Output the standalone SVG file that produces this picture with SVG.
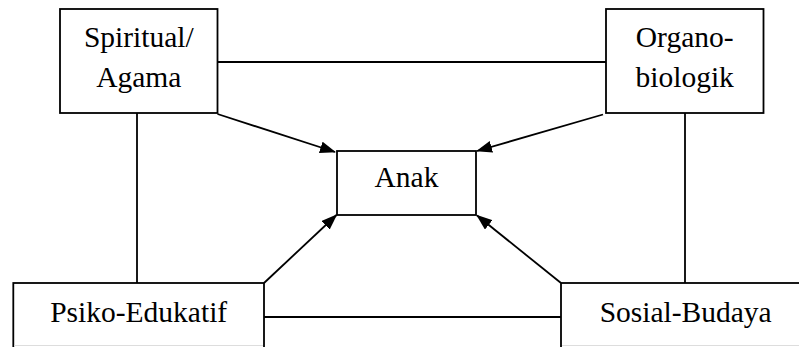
<svg xmlns="http://www.w3.org/2000/svg" width="799" height="347" viewBox="0 0 799 347">
<style>
.box{fill:#fff;stroke:#000;stroke-width:1.8}
.ln{fill:none;stroke:#000;stroke-width:1.8}
.t{font-size:29.5px;fill:#000;text-anchor:middle}
</style>
<defs>
<marker id="ah" markerUnits="userSpaceOnUse" markerWidth="16" markerHeight="12" viewBox="0 0 16 12" refX="15" refY="6" orient="auto">
<path d="M0,0 L16,6 L0,12 Z" fill="#000"/>
</marker>
</defs>
<rect width="799" height="347" fill="#fff"/>
<g id="connectors">
<line class="ln" x1="217.5" y1="62" x2="606" y2="62"/>
<line class="ln" x1="137" y1="113" x2="137" y2="283"/>
<line class="ln" x1="685" y1="113" x2="685" y2="283"/>
<line class="ln" x1="264" y1="317" x2="561" y2="317"/>
<line class="ln" x1="217.5" y1="114" x2="335" y2="152" marker-end="url(#ah)"/>
<line class="ln" x1="603" y1="114.5" x2="477" y2="151" marker-end="url(#ah)"/>
<line class="ln" x1="264" y1="283" x2="336.5" y2="215" marker-end="url(#ah)"/>
<line class="ln" x1="561" y1="283" x2="477" y2="215.5" marker-end="url(#ah)"/>
</g>
<g font-family="'Liberation Serif', 'Times New Roman', Times, serif">
<g id="spiritual">
<rect class="box" x="60" y="9" width="157.5" height="104"/>
<text class="t" x="138.8" y="46.5">Spiritual/</text>
<text class="t" x="138.8" y="87">Agama</text>
</g>
<g id="organo">
<rect class="box" x="606" y="9" width="157.5" height="104"/>
<text class="t" x="684.7" y="47">Organo-</text>
<text class="t" x="684.7" y="87">biologik</text>
</g>
<g id="anak">
<rect class="box" x="337" y="151" width="139" height="64"/>
<text class="t" x="406.5" y="186.7" font-size="27.5">Anak</text>
</g>
<g id="psiko">
<rect class="box" x="13.3" y="283" width="250.7" height="80"/>
<line x1="14.3" y1="345.5" x2="263" y2="345.5" stroke="#ddd" stroke-width="1"/>
<text class="t" x="138.7" y="322">Psiko-Edukatif</text>
</g>
<g id="sosial">
<rect class="box" x="561" y="283" width="250" height="80"/>
<line x1="562" y1="345.5" x2="799" y2="345.5" stroke="#ddd" stroke-width="1"/>
<text class="t" x="685.7" y="322">Sosial-Budaya</text>
</g>
</g>
</svg>
